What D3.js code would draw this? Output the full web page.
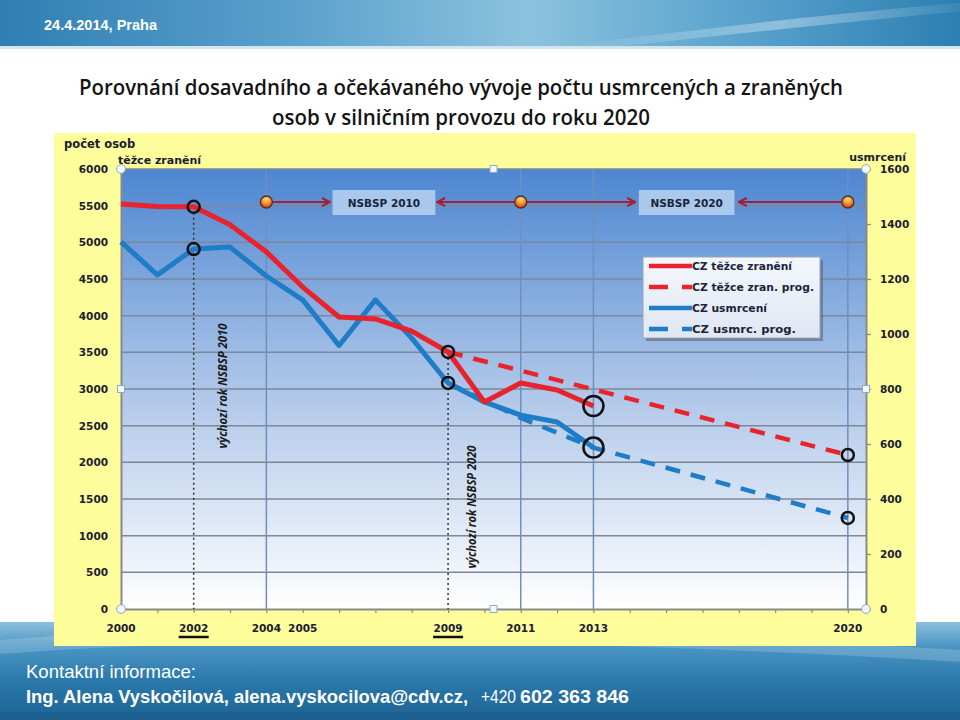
<!DOCTYPE html>
<html><head><meta charset="utf-8">
<script src="https://cdn.jsdelivr.net/npm/d3@7/dist/d3.min.js"></script>
<style>html,body{margin:0;padding:0;background:#fff;}svg{display:block;}</style>
</head><body>
<script>
// ---- data ----
const years = [2000,2001,2002,2003,2004,2005,2006,2007,2008,2009,2010,2011,2012,2013];
const injured = [5523,5490,5485,5240,4870,4390,3982,3955,3790,3505,2823,3082,2986,2768];
const killed  = [1335,1215,1309,1316,1211,1124,958,1124,985,822,753,705,680,587];
const injuredProgYears = [2009,2020];
const injuredProg = [3505,2100];
const killedProgYears = [2009,2011,2013,2020];
const killedProg = [822,695,587,331];
const leftTicks = [0,500,1000,1500,2000,2500,3000,3500,4000,4500,5000,5500,6000];
const rightTicks = [0,200,400,600,800,1000,1200,1400,1600];
const xLabels = ["2000","2002","2004","2005","2009","2011","2013","2020"];
const underlined = ["2002","2009"];
const gridYears = [2004,2011,2013,2020];
const baseYears = [2002,2009];
const timelineYears = [2004,2011,2020];
const legendNames = ["CZ těžce zranění","CZ těžce zran. prog.","CZ usmrcení","CZ usmrc. prog."];

const W=960,H=720;
const svg=d3.select("body").append("svg").attr("width",W).attr("height",H);
const defs=svg.append("defs");

// gradients
const g1=defs.append("linearGradient").attr("id","topband").attr("x1","0").attr("x2","1").attr("y1","0").attr("y2","0");
[["0%","#2f7fb3"],["30%","#5aa0cc"],["55%","#8cc2de"],["75%","#5ea6cf"],["100%","#2d7fb2"]].forEach(s=>g1.append("stop").attr("offset",s[0]).attr("stop-color",s[1]));
const g2=defs.append("linearGradient").attr("id","botband").attr("x1","0").attr("x2","0").attr("y1","0").attr("y2","1");
[["0%","#8ec0dc"],["25%","#4a95c4"],["60%","#2a78ab"],["100%","#1d6394"]].forEach(s=>g2.append("stop").attr("offset",s[0]).attr("stop-color",s[1]));
const g3=defs.append("linearGradient").attr("id","plotbg").attr("x1","0").attr("x2","0").attr("y1","0").attr("y2","1");
[["0%","#4d86d1"],["45%","#a5c0e6"],["100%","#ffffff"]].forEach(s=>g3.append("stop").attr("offset",s[0]).attr("stop-color",s[1]));
const g4=defs.append("radialGradient").attr("id","dot").attr("cx","50%").attr("cy","30%").attr("r","70%");
[["0%","#ffe08a"],["45%","#ff9a2a"],["100%","#d8300c"]].forEach(s=>g4.append("stop").attr("offset",s[0]).attr("stop-color",s[1]));
const g5=defs.append("linearGradient").attr("id","legbg").attr("x1","0").attr("x2","0").attr("y1","0").attr("y2","1");
[["0%","#f4f7fc"],["100%","#dfe7f3"]].forEach(s=>g5.append("stop").attr("offset",s[0]).attr("stop-color",s[1]));
const g6=defs.append("linearGradient").attr("id","streak").attr("x1","0").attr("x2","1").attr("y1","0").attr("y2","0");
[["0%","#ffffff",0],["50%","#ffffff",0.35],["100%","#ffffff",0]].forEach(s=>g6.append("stop").attr("offset",s[0]).attr("stop-color",s[1]).attr("stop-opacity",s[2]));
defs.append("marker").attr("id","ah").attr("viewBox","0 0 10 10").attr("refX",9).attr("refY",5)
  .attr("markerWidth",10).attr("markerHeight",10).attr("markerUnits","userSpaceOnUse").attr("orient","auto")
  .append("path").attr("d","M1,1 L9,5 L1,9").attr("fill","none").attr("stroke","#a3203a").attr("stroke-width",2);

// slide bands
svg.append("rect").attr("x",0).attr("y",0).attr("width",W).attr("height",46).attr("fill","url(#topband)");
svg.append("path").attr("d","M560,46 C700,30 850,10 1000,0 L1000,8 C860,20 720,36 620,46Z").attr("fill","url(#streak)");
svg.append("rect").attr("x",0).attr("y",46).attr("width",W).attr("height",3).attr("fill","#cfe6ee");
svg.append("rect").attr("x",0).attr("y",622).attr("width",W).attr("height",98).attr("fill","url(#botband)");
svg.append("path").attr("d","M0,640 C250,620 600,628 960,650 L960,662 C600,640 250,634 0,654Z").attr("fill","#ffffff").attr("opacity",0.18);
svg.append("rect").attr("x",0).attr("y",712).attr("width",W).attr("height",8).attr("fill","#1a5a88").attr("opacity",0.5);

svg.append("text").attr("x",44).attr("y",30).text("24.4.2014, Praha")
  .attr("font-family","'Liberation Sans Narrow','Liberation Sans',Arial,sans-serif").attr("font-weight","bold")
  .attr("font-size",15).attr("fill","#fff").attr("textLength",113).attr("lengthAdjust","spacingAndGlyphs");

// title
const tf="'Open Sans','Noto Sans',sans-serif";
svg.append("text").attr("x",79).attr("y",95).text("Porovnání dosavadního a očekávaného vývoje počtu usmrcených a zraněných")
  .attr("font-family",tf).attr("font-weight",600).attr("font-size",21).attr("fill","#141414").attr("textLength",764).attr("lengthAdjust","spacingAndGlyphs");
svg.append("text").attr("x",272).attr("y",125).text("osob v silničním provozu do roku 2020")
  .attr("font-family",tf).attr("font-weight",600).attr("font-size",21).attr("fill","#141414").attr("textLength",378).attr("lengthAdjust","spacingAndGlyphs");

// chart area
svg.append("rect").attr("x",54).attr("y",133).attr("width",862).attr("height",513).attr("fill","#fdfd9c");

const x=d3.scaleLinear().domain([2000,2020.5]).range([121,866]);
const yL=d3.scaleLinear().domain([0,6000]).range([609,169]);
const yR=d3.scaleLinear().domain([0,1600]).range([609,169]);

svg.append("rect").attr("x",x(2000)).attr("y",yL(6000)).attr("width",x(2020.5)-x(2000)).attr("height",yL(0)-yL(6000)).attr("fill","url(#plotbg)");

// gridlines
svg.append("g").selectAll("line").data(leftTicks.filter(d=>d>0)).join("line")
  .attr("x1",x(2000)).attr("x2",x(2020.5)).attr("y1",d=>yL(d)).attr("y2",d=>yL(d))
  .attr("stroke","#7d8797").attr("stroke-width",1.5);
svg.append("g").selectAll("line").data(gridYears).join("line")
  .attr("x1",d=>x(d)).attr("x2",d=>x(d)).attr("y1",yL(6000)).attr("y2",yL(0))
  .attr("stroke","#6f8fbf").attr("stroke-width",1.5);

// axes
const lab="'DejaVu Sans',Verdana,sans-serif";
const fmt=d3.format("d");
const axL=svg.append("g").attr("transform",`translate(${x(2000)},0)`).call(d3.axisLeft(yL).tickValues(leftTicks).tickFormat(fmt).tickSize(0).tickPadding(13));
const axR=svg.append("g").attr("transform",`translate(${x(2020.5)},0)`).call(d3.axisRight(yR).tickValues(rightTicks).tickFormat(fmt).tickSize(5).tickPadding(9));
const axB=svg.append("g").attr("transform",`translate(0,${yL(0)})`).call(d3.axisBottom(x).tickValues(d3.range(2000,2021)).tickSize(4).tickFormat(""));
[axL,axR,axB].forEach(a=>{a.select(".domain").attr("stroke","#8a8a8a").attr("stroke-width",2);
  a.selectAll(".tick line").attr("stroke","#8a8a8a").attr("stroke-width",1.2);
  a.selectAll("text").attr("font-family",lab).attr("font-weight","bold").attr("font-size",10.5).attr("fill","#1c1c30");});
axL.selectAll(".tick line").remove();

svg.append("g").selectAll("text").data(xLabels).join("text")
  .attr("x",d=>x(+d)).attr("y",632).attr("text-anchor","middle").text(d=>d)
  .attr("font-family",lab).attr("font-weight","bold").attr("font-size",10.5).attr("fill","#1c1c30");
svg.append("g").selectAll("line").data(underlined).join("line")
  .attr("x1",d=>x(+d)-15).attr("x2",d=>x(+d)+15).attr("y1",637).attr("y2",637)
  .attr("stroke","#111").attr("stroke-width",2.5);

svg.append("text").attr("x",64).attr("y",148).text("počet osob").attr("font-family",lab).attr("font-weight","bold").attr("font-size",11.5).attr("fill","#1c1c30");
svg.append("text").attr("x",118).attr("y",164).text("těžce zranění").attr("font-family",lab).attr("font-weight","bold").attr("font-size",11).attr("fill","#1c1c30");
svg.append("text").attr("x",906).attr("y",161).attr("text-anchor","end").text("usmrcení").attr("font-family",lab).attr("font-weight","bold").attr("font-size",11).attr("fill","#1c1c30");

// base-year dotted lines
svg.append("g").selectAll("line").data(baseYears).join("line")
  .attr("x1",d=>x(d)).attr("x2",d=>x(d))
  .attr("y1",d=>yL(injured[years.indexOf(d)])+6).attr("y2",yL(0))
  .attr("stroke","#333").attr("stroke-width",1.5).attr("stroke-dasharray","2,3");

const rot="'Liberation Sans Narrow','Open Sans',sans-serif";
[[2002.8,386,"výchozí rok NSBSP 2010",125],[2009.65,507,"výchozí rok NSBSP 2020",123]].forEach(r=>{
  svg.append("text").attr("transform",`translate(${x(r[0])+4},${r[1]}) rotate(-90)`).attr("text-anchor","middle")
   .text(r[2]).attr("font-family",rot).attr("font-style","italic").attr("font-weight","bold").attr("font-size",12.5).attr("fill","#1a1a1a")
   .attr("textLength",r[3]).attr("lengthAdjust","spacingAndGlyphs");
});

// lines
const red="#e8232b", blue="#1f7cc6";
const lineL=d3.line().x(d=>x(d[0])).y(d=>yL(d[1]));
const lineR=d3.line().x(d=>x(d[0])).y(d=>yR(d[1]));
svg.append("path").datum(injuredProgYears.map((y,i)=>[y,injuredProg[i]])).attr("d",lineL)
  .attr("fill","none").attr("stroke",red).attr("stroke-width",4.5).attr("stroke-dasharray","15,11");
svg.append("path").datum(killedProgYears.map((y,i)=>[y,killedProg[i]])).attr("d",lineR)
  .attr("fill","none").attr("stroke",blue).attr("stroke-width",4.5).attr("stroke-dasharray","15,11");
svg.append("path").datum(years.map((y,i)=>[y,killed[i]])).attr("d",lineR)
  .attr("fill","none").attr("stroke",blue).attr("stroke-width",5).attr("stroke-linejoin","round");
svg.append("path").datum(years.map((y,i)=>[y,injured[i]])).attr("d",lineL)
  .attr("fill","none").attr("stroke",red).attr("stroke-width",5).attr("stroke-linejoin","round");

// circles
const rings=[
  [2002,yL(injured[2]),6],[2002,yR(killed[2]),6],
  [2009,yL(injured[9]),6],[2009,yR(killed[9]),6],
  [2013,yL(injured[13]),10],[2013,yR(killed[13]),10],
  [2020,yL(injuredProg[1]),6],[2020,yR(killedProg[3]),6]];
svg.append("g").selectAll("circle").data(rings).join("circle")
  .attr("cx",d=>x(d[0])).attr("cy",d=>d[1]).attr("r",d=>d[2])
  .attr("fill","none").attr("stroke","#111").attr("stroke-width",2.5);

// timeline
const ty=yL(5550);
const arrows=[[2004,2005.75],[2011,2008.7],[2011,2014.15],[2020,2017.0]];
svg.append("g").selectAll("line").data(arrows).join("line")
  .attr("x1",d=>x(d[0])).attr("x2",d=>x(d[1])).attr("y1",ty).attr("y2",ty)
  .attr("stroke","#a3203a").attr("stroke-width",2).attr("marker-end","url(#ah)");
const boxes=[[2005.82,2008.65,"NSBSP 2010"],[2014.25,2016.88,"NSBSP 2020"]];
boxes.forEach(b=>{
  svg.append("rect").attr("x",x(b[0])).attr("y",ty-12).attr("width",x(b[1])-x(b[0])).attr("height",25).attr("fill","#a9c8ec");
  svg.append("text").attr("x",(x(b[0])+x(b[1]))/2).attr("y",ty+4.5).attr("text-anchor","middle").text(b[2])
   .attr("font-family",lab).attr("font-weight","bold").attr("font-size",10.5).attr("fill","#1b2438");
});
svg.append("g").selectAll("circle").data(timelineYears).join("circle")
  .attr("cx",d=>x(d)).attr("cy",ty).attr("r",6).attr("fill","url(#dot)").attr("stroke","#4a3030").attr("stroke-width",1.3);

// legend
const lg=svg.append("g").attr("transform","translate(643,257)");
lg.append("rect").attr("x",3).attr("y",3).attr("width",177).attr("height",81).attr("fill","#5a6070").attr("opacity",0.6);
lg.append("rect").attr("width",177).attr("height",81).attr("fill","url(#legbg)").attr("stroke","#9aa6b8");
const styles=[[red,null],[red,"19,14"],[blue,null],[blue,"19,14"]];
const legLen=[100,122,75,104];
legendNames.forEach((n,i)=>{
  const yy=9+i*21;
  lg.append("line").attr("x1",6).attr("x2",49).attr("y1",yy).attr("y2",yy).attr("stroke",styles[i][0]).attr("stroke-width",4.5)
    .attr("stroke-dasharray",styles[i][1]);
  lg.append("text").attr("x",49).attr("y",yy+4).text(n).attr("font-family",lab).attr("font-weight","bold").attr("font-size",10)
    .attr("fill","#1b2438").attr("textLength",legLen[i]).attr("lengthAdjust","spacingAndGlyphs");
});

// selection handles
const hx=[2000,(2000+2020.5)/2,2020.5], hy=[6000,3000,0];
const handles=[];
hx.forEach((a,i)=>hy.forEach((b,j)=>{ if(i===1&&j===1) return; handles.push([a,b,(i!==1&&j!==1)?"c":"s"]); }));
svg.append("g").selectAll("path").data(handles).join("path")
  .attr("transform",d=>`translate(${x(d[0])},${yL(d[1])})`)
  .attr("d",d=>d[2]==="c"?d3.symbol(d3.symbolCircle,60)():"M-3.5,-3.5h7v7h-7z")
  .attr("fill","#f4f8fc").attr("stroke","#8fa8c4").attr("stroke-width",1);

// footer
const ff="'Liberation Sans Narrow','Liberation Sans',Arial,sans-serif";
const foot=[
  [26,678,"Kontaktní informace:",170,"normal"],
  [26,703,"Ing. Alena Vyskočilová, alena.vyskocilova@cdv.cz,",442,"bold"],
  [481,703,"+420",35,"normal"],
  [520,703,"602 363 846",109,"bold"]];
svg.append("g").selectAll("text").data(foot).join("text")
  .attr("x",d=>d[0]).attr("y",d=>d[1]).text(d=>d[2]).attr("font-family",ff).attr("font-size",19).attr("fill","#fff")
  .attr("font-weight",d=>d[4]).attr("textLength",d=>d[3]).attr("lengthAdjust","spacingAndGlyphs");
</script>
</body></html>
